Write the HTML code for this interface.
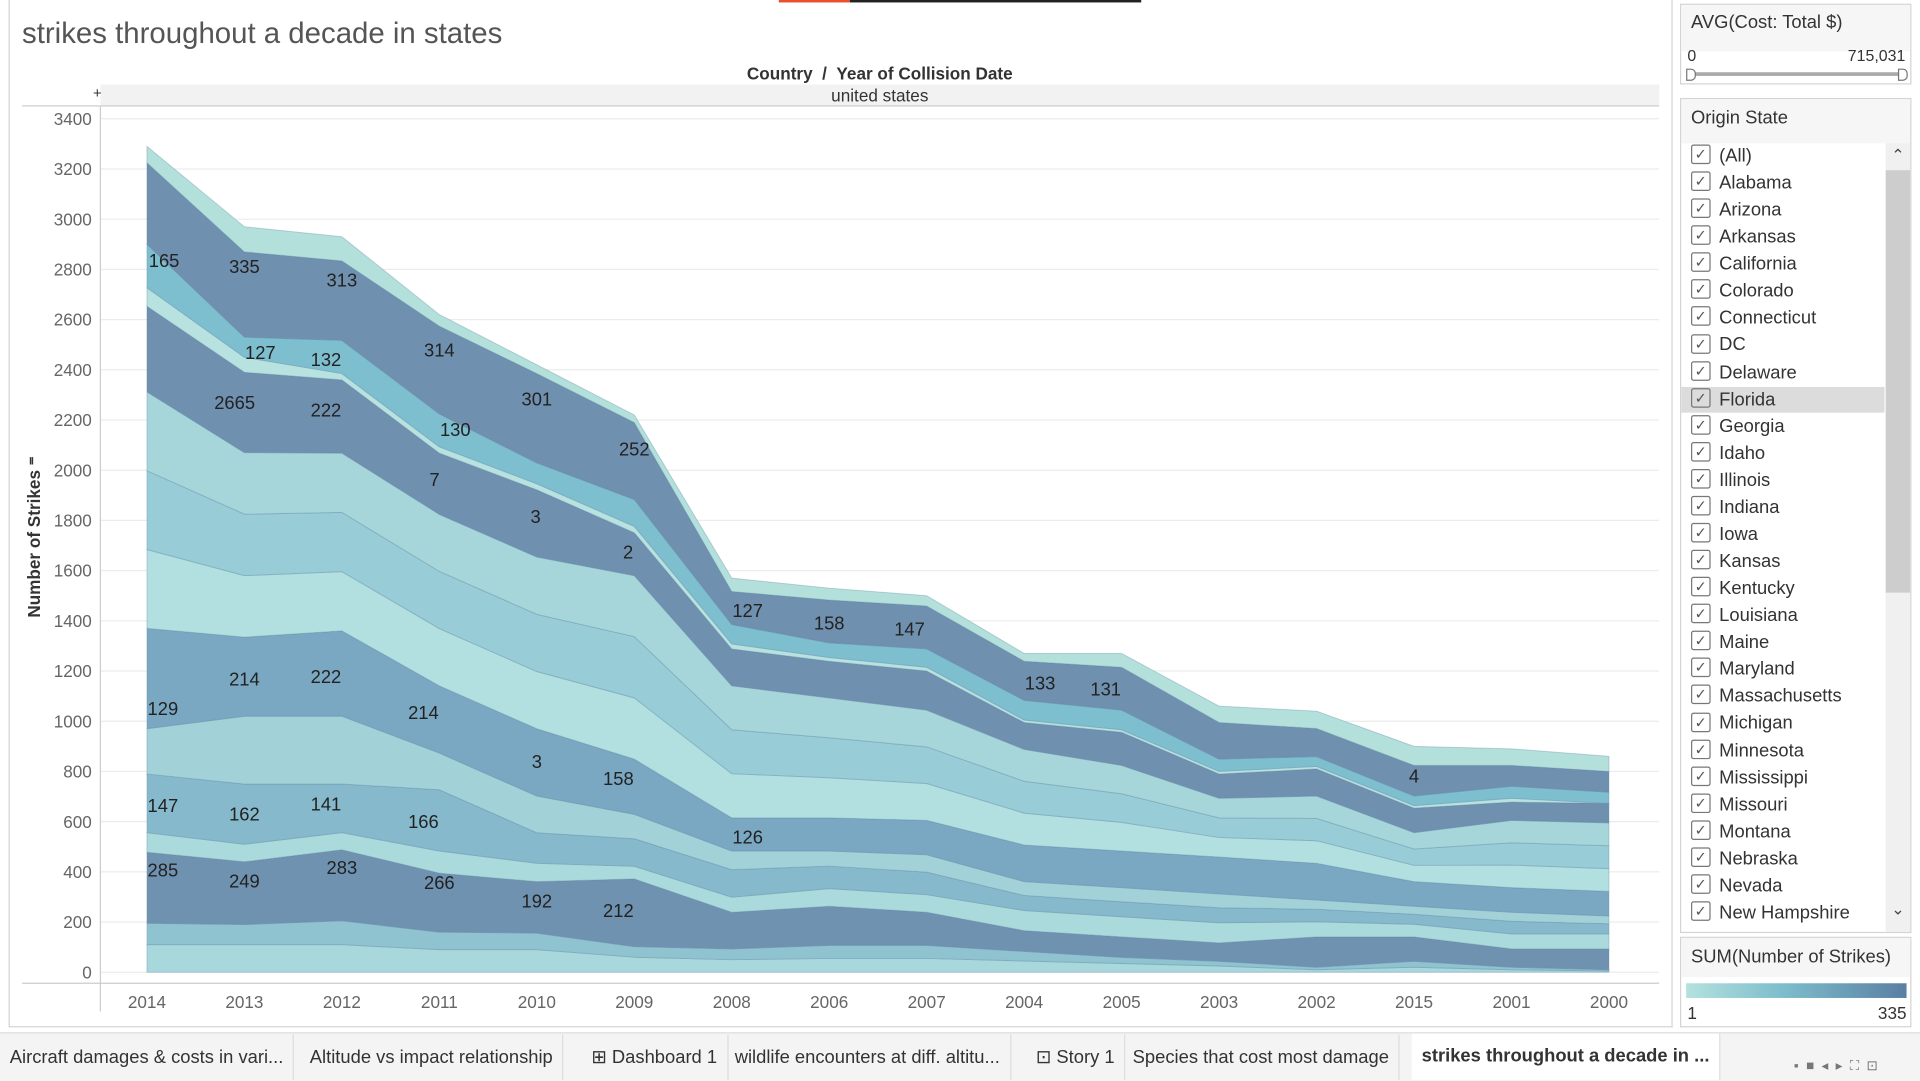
<!DOCTYPE html>
<html><head><meta charset="utf-8">
<style>
html,body{margin:0;padding:0;width:1920px;height:1080px;overflow:hidden;background:#fff;font-family:"Liberation Sans",sans-serif;}
#root{position:absolute;left:0;top:0;width:1568px;height:882px;transform:scale(1.22449);transform-origin:0 0;}
.abs{position:absolute;}
.item{position:absolute;left:8px;height:22px;font-size:15px;color:#333;line-height:22px;}
.cb{display:inline-block;width:14px;height:14px;border:1px solid #777;border-radius:2px;vertical-align:middle;margin-right:7px;position:relative;top:-2px;text-align:center;line-height:14px;font-size:12px;color:#555;}
.tab{position:absolute;top:845px;height:37px;line-height:37px;font-size:15px;color:#333;padding:0 8px;border-right:1px solid #ddd;white-space:nowrap;}
</style></head><body>
<div id="root">
<div class="abs" style="left:636px;top:0;width:58px;height:2px;background:#e8502f"></div>
<div class="abs" style="left:694px;top:0;width:238px;height:2px;background:#222"></div>
<div class="abs" style="left:7px;top:0;width:1357px;height:838px;border:1px solid #d4d4d4;border-top:none;"></div>
<div class="abs" style="left:18px;top:14px;font-size:24px;color:#555;">strikes throughout a decade in states</div>
<div class="abs" style="left:82px;top:52px;width:1273px;text-align:center;font-size:14px;font-weight:bold;color:#333;">Country &nbsp;/ &nbsp;Year of Collision Date</div>
<div class="abs" style="left:82px;top:69px;width:1273px;height:17px;background:#f2f2f2;border-bottom:1px solid #ccc;text-align:center;font-size:14px;color:#333;line-height:18px;">united states</div>
<div class="abs" style="left:76px;top:71px;width:10px;height:10px;font-size:12px;line-height:10px;color:#333;">+</div>
<div class="abs" style="left:18px;top:86px;width:64px;height:1px;background:#ccc"></div>
<svg class="abs" style="left:0;top:0" width="1366" height="840" id="chart"></svg>
<div class="abs" style="left:-52px;top:430px;width:160px;text-align:center;transform:rotate(-90deg);font-size:14px;font-weight:bold;color:#333;">Number of Strikes ⁼</div>

<!-- right panel -->
<div class="abs" style="left:1372px;top:3px;width:187px;height:64px;border:1px solid #d4d4d4;">
 <div style="background:#f6f6f6;height:38px;line-height:30px;padding-left:8px;font-size:15px;color:#333">AVG(Cost: Total $)</div>
 <div class="abs" style="left:5px;top:34px;font-size:13px;color:#333">0</div>
 <div class="abs" style="right:4px;top:34px;font-size:13px;color:#333">715,031</div>
 <div class="abs" style="left:7px;top:55px;width:173px;height:3px;background:#aaa"></div>
 <div class="abs" style="left:4px;top:52px;width:6px;height:8px;border:1px solid #777;background:#fff;border-radius:0 4px 4px 0"></div>
 <div class="abs" style="left:177px;top:52px;width:6px;height:8px;border:1px solid #777;background:#fff;border-radius:0 4px 4px 0"></div>
</div>
<div class="abs" style="left:1372px;top:80px;width:187px;height:680px;border:1px solid #d4d4d4;overflow:hidden">
 <div style="background:#f6f6f6;height:36px;line-height:32px;padding-left:8px;font-size:15px;color:#333">Origin State</div>
 <div class="abs" style="left:0;top:235px;width:166px;height:21px;background:#dcdcdc"></div>
 <div id="list"></div>
 <div class="abs" style="left:167px;top:36px;width:20px;height:644px;background:#f0f0f0"></div>
 <div class="abs" style="left:167px;top:58px;width:20px;height:345px;background:#cdcdcd"></div>
 <div class="abs" style="left:167px;top:38px;width:20px;text-align:center;font-size:13px;color:#444">⌃</div>
 <div class="abs" style="left:167px;top:654px;width:20px;text-align:center;font-size:13px;color:#444">⌄</div>
</div>
<div class="abs" style="left:1372px;top:765px;width:187px;height:72px;border:1px solid #d4d4d4;">
 <div style="background:#f6f6f6;height:32px;line-height:32px;padding-left:8px;font-size:15px;color:#333">SUM(Number of Strikes)</div>
 <div class="abs" style="left:4px;top:37px;width:180px;height:12px;background:linear-gradient(90deg,#b3e2df,#7cbccb 45%,#5a7fa3)"></div>
 <div class="abs" style="left:5px;top:53px;font-size:14px;color:#333">1</div>
 <div class="abs" style="right:3px;top:53px;font-size:14px;color:#333">335</div>
</div>

<!-- tabs -->
<div class="abs" style="left:0;top:843px;width:1568px;height:39px;background:#f4f4f4;border-top:1px solid #ddd"></div>
<div class="tab" style="left:0">Aircraft damages &amp; costs in vari...</div>
<div class="tab" style="left:245px">Altitude vs impact relationship</div>
<div class="tab" style="left:475px">⊞ Dashboard 1</div>
<div class="tab" style="left:592px">wildlife encounters at diff. altitu...</div>
<div class="tab" style="left:838px">⊡ Story 1</div>
<div class="tab" style="left:917px">Species that cost most damage</div>
<div class="tab" style="left:1153px;background:#fff;font-weight:bold;height:38px;top:844px">strikes throughout a decade in ...</div>
<div class="abs" style="left:1465px;top:864px;font-size:11px;color:#777;letter-spacing:6px">▪■◂▸⛶⊡</div>
</div>
<script>
const years=["2014","2013","2012","2011","2010","2009","2008","2006","2007","2004","2005","2003","2002","2015","2001","2000"];
const yTicks=[0,200,400,600,800,1000,1200,1400,1600,1800,2000,2200,2400,2600,2800,3000,3200,3400];
const base1=[110,110,110,90,90,60,50,55,55,45,35,25,10,20,10,5];
const base2=[85,80,95,70,66,42,43,52,52,38,24,19,10,24,10,5];
const bandA=[283,250,283,235,205,270,146,156,132,83,82,73,121,97,73,83];
const light3=[78,70,68,88,73,50,60,70,70,80,80,80,60,50,60,60];
const bandB=[234,240,194,244,122,110,110,90,90,60,60,60,50,40,50,40];
const light4=[180,270,270,146,146,97,74,60,69,55,56,55,37,32,36,31];
const bandC=[400,315,340,268,268,220,132,132,137,146,146,147,146,98,98,98];
const light5=[314,245,236,228,228,244,176,160,147,127,114,78,90,65,90,91];
const light6=[314,245,236,228,228,244,175,159,146,127,114,78,89,65,89,91];
const light7=[314,245,236,227,228,243,175,159,146,127,113,78,89,65,89,91];
const bandD=[341,320,292,244,268,171,147,146,156,107,132,97,108,98,73,78];
const light8=[74,60,25,25,24,25,20,15,15,10,10,10,10,10,15,0];
const bandE=[173,80,132,131,83,107,77,58,73,78,78,49,39,38,48,44];
const bandF=[325,340,317,350,356,307,132,171,171,156,171,146,112,122,83,83];
const topLight=[65,100,96,46,35,30,53,47,41,31,55,65,69,76,66,60];
const series=[base1,base2,bandA,light3,bandB,light4,bandC,light5,light6,light7,bandD,light8,bandE,bandF,topLight];
const seriesNames=["base-1","base-2","band-a","light-3","band-b","light-4","band-c","light-5","light-6","light-7","band-d","light-8","band-e","band-f","top-light"];
const seriesColors=["#a9d8dc","#8fc3d0","#6f92b0","#aadadb","#86b9cb","#a2d2d8","#7aa7c1","#b2dfdf","#98ccd6","#a6d6da","#6f90ae","#b7e2df","#7ebfcf","#6f90ae","#b4e0db"];
const labelText=["165","335","313","314","301","252","127","132","130","2665","222","7","3","2","127","158","147","133","131","4","129","214","222","214","3","158","126","147","162","141","166","285","249","283","266","192","212"];
const labelYear=[0,1,2,3,4,5,1,2,3,1,2,3,4,5,6,7,8,9,10,13,0,1,2,3,4,5,6,0,1,2,3,0,1,2,3,4,5];
const labelValue=[2834,2810,2756,2478,2283,2083,2468,2439,2161,2268,2239,1961,1815,1673,1439,1390,1366,1151,1127,780,1049,1166,1176,1034,839,771,537,663,629,668,600,405,361,415,356,283,244];
const labelShift=[14,0,0,0,0,0,13,-13,13,-8,-13,-4,-1,-5,13,0,-14,13,-13,0,13,0,-13,-13,0,-13,13,13,0,-13,-13,13,0,0,0,0,-13];

const NS="http://www.w3.org/2000/svg";
const svg=document.getElementById('chart');
const X0=120,X1=1314,Y0=794,Y1=97,VMAX=3400;
function xPos(i){return X0+(X1-X0)*i/(years.length-1);}
function yPos(v){return Y0-(Y0-Y1)*v/VMAX;}
function mk(tag,attrs){const e=document.createElementNS(NS,tag);for(const k in attrs)e.setAttribute(k,attrs[k]);svg.appendChild(e);return e;}
// gridlines + ticks
yTicks.forEach(t=>{
  const g=mk('line',{x1:82,x2:1355,y1:yPos(t),y2:yPos(t),stroke:'#ececec','stroke-width':1});
  
  
  const tx=mk('text',{x:75,y:yPos(t)+5,'text-anchor':'end','font-size':14,fill:'#666','font-family':'Liberation Sans, sans-serif'});
  tx.textContent=t;
  
  
});
mk('line',{x1:82,x2:82,y1:87,y2:826,stroke:'#ccc'});
mk('line',{x1:18,x2:1355,y1:803,y2:803,stroke:'#ccc'});
// areas
const cum=years.map(()=>0);
series.forEach((s,si)=>{
  const lo=cum.slice();
  s.forEach((v,i)=>cum[i]+=v);
  let d='M'+years.map((_,i)=>xPos(i)+','+yPos(cum[i])).join(' L');
  for(let i=years.length-1;i>=0;i--)d+=' L'+xPos(i)+','+yPos(lo[i]);
  d+=' Z';
  const p=mk('path',{d:d,fill:seriesColors[si],stroke:'#5f86a6','stroke-opacity':0.35,'stroke-width':0.8});
  
  
});
// x labels
years.forEach((y,i)=>{
  const t=mk('text',{x:xPos(i),y:823,'text-anchor':'middle','font-size':14,fill:'#666','font-family':'Liberation Sans, sans-serif'});
  t.textContent=y;
  
  
});
// mark labels
labelText.forEach((l,k)=>{
  const t=mk('text',{x:xPos(labelYear[k])+labelShift[k],y:yPos(labelValue[k])+5,'text-anchor':'middle','font-size':15,fill:'#222','font-family':'Liberation Sans, sans-serif'});
  t.textContent=l;
  
  
});
// state list
const states=["(All)","Alabama","Arizona","Arkansas","California","Colorado","Connecticut","DC","Delaware","Florida","Georgia","Idaho","Illinois","Indiana","Iowa","Kansas","Kentucky","Louisiana","Maine","Maryland","Massachusetts","Michigan","Minnesota","Mississippi","Missouri","Montana","Nebraska","Nevada","New Hampshire"];
const list=document.getElementById('list');
states.forEach((s,i)=>{
  const d=document.createElement('div');
  d.className='item';
  d.style.top=(36+i*22.07)+'px';
  d.innerHTML='<span class="cb">✓</span>'+s;
  
  
  list.appendChild(d);
});
</script>
</body></html>
